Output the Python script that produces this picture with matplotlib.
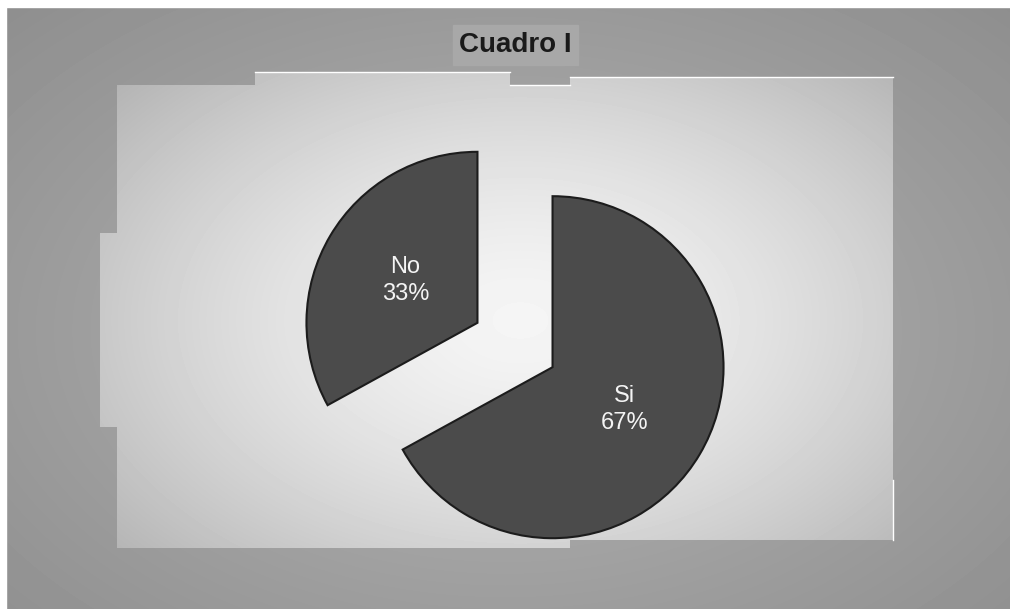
import numpy as np
import matplotlib.pyplot as plt
from matplotlib.patches import Polygon, Rectangle

# data
labels = ['Si', 'No']
shares = [67, 33]
title = 'Cuadro I'

W, H = 1010, 609
plt.rcParams['font.family'] = ['Liberation Sans', 'DejaVu Sans']

fig = plt.figure(figsize=(W / 100, H / 100), dpi=100)
ax = fig.add_axes([0, 0, 1, 1])

# background: darker vignette outside, lighter panel inside
yy, xx = np.mgrid[0:H, 0:W]
d_out = np.sqrt(((xx - 505) / 560.0) ** 2 + ((yy - 330) / 360.0) ** 2)
outer = 0.71 - 0.12 * d_out
ax.imshow(outer, cmap='gray', vmin=0, vmax=1, extent=(0, W, 0, H),
          origin='upper', interpolation='bilinear', zorder=0)

d_in = np.sqrt(((xx - 520) / 430.0) ** 2 + ((yy - 320) / 280.0) ** 2)
inner = 0.96 - 0.18 * d_in ** 1.5
panel = [(117, 85), (255, 85), (255, 72), (510, 72), (510, 85), (570, 85),
         (570, 77), (893, 77), (893, 540), (570, 540), (570, 548),
         (117, 548), (117, 427), (100, 427), (100, 233), (117, 233)]
clip = Polygon([(x, H - y) for x, y in panel], closed=True,
               facecolor='none', edgecolor='none', transform=ax.transData)
ax.add_patch(clip)
img = ax.imshow(inner, cmap='gray', vmin=0, vmax=1, extent=(0, W, 0, H),
                origin='upper', interpolation='bilinear', zorder=1)
img.set_clip_path(clip)

# thin white scan edges on the panel top
for x0, x1, y in [(255, 510, 72), (510, 570, 85), (570, 893, 77)]:
    ax.plot([x0, x1], [H - y, H - y], color='white', lw=1, zorder=2)
ax.plot([893, 893], [H - 480, H - 540], color='white', lw=1, zorder=2)

# white margin of the scan
ax.add_patch(Rectangle((0, H - 7), W, 7, color='white', zorder=2))
ax.add_patch(Rectangle((0, 0), 6, H, color='white', zorder=2))

# title box
ax.add_patch(Rectangle((453, H - 65), 125, 40, color='#a8a8a8', zorder=3))
ax.text(515.5, H - 45, title, ha='center', va='center', fontsize=20,
        fontweight='bold', color='#1a1a1a', zorder=4)

# pie (explode is in data units here, radius is in pixels)
radius = 171
pie_labels = [f'{l}\n{v}%' for l, v in zip(labels, shares)]
wedges, texts = ax.pie(shares, labels=pie_labels, startangle=90,
                       counterclock=False,
                       explode=[0.255 * radius, 0.255 * radius],
                       radius=radius, center=(515, H - 345),
                       colors=['#4b4b4b', '#4b4b4b'],
                       labeldistance=0.49,
                       wedgeprops=dict(edgecolor='#1c1c1c', linewidth=1.5,
                                       zorder=5),
                       textprops=dict(color='#f4f4f4', fontsize=17, ha='center',
                                      va='center', linespacing=1.3,
                                      zorder=6))

ax.set_xlim(0, W)
ax.set_ylim(0, H)
ax.axis('off')

fig.savefig('out.png', dpi=100)
